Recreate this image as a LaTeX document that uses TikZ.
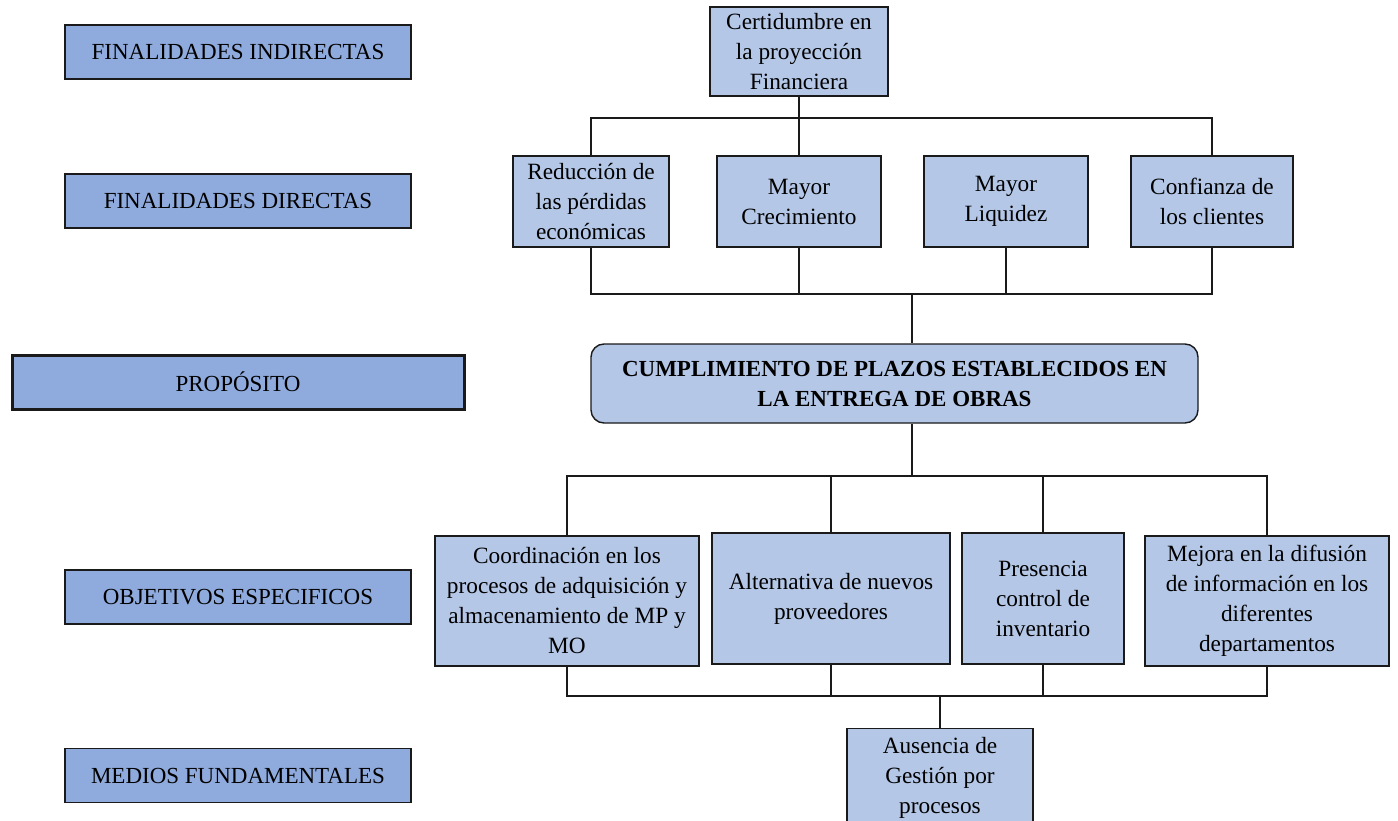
\documentclass[tikz,border=0pt]{standalone}
\usepackage{fontspec}
\setmainfont{Liberation Serif}
\definecolor{lvlfill}{HTML}{8FAADC}
\definecolor{boxfill}{HTML}{B4C7E7}
\definecolor{edge}{HTML}{1A1A1A}
\begin{document}
\begin{tikzpicture}[x=1pt,y=-1pt,
  lvl/.style={draw=edge, line width=1.4pt, fill=lvlfill, inner sep=0pt,
    minimum width=346pt, minimum height=54pt,
    font=\fontsize{23}{27}\selectfont},
  item/.style={draw=edge, line width=1.4pt, fill=boxfill, inner sep=0pt,
    align=center, font=\fontsize{23.3}{30}\selectfont},
  link/.style={draw=edge, line width=1.3pt}
]
\useasboundingbox (0,0) rectangle (1398,821);

% level labels on the left
\node[lvl] (fi)  at (238,52)    {FINALIDADES INDIRECTAS};
\node[lvl] (fd)  at (238,201)   {FINALIDADES DIRECTAS};
\node[lvl, line width=3pt, minimum width=452pt] (pr) at (238,382) {PROPÓSITO};
\node[lvl] (oe)  at (238,597)   {OBJETIVOS ESPECIFICOS};
\node[lvl] (mf)  at (238,775.5) {MEDIOS FUNDAMENTALES};

% indirect and direct ends
\node[item, minimum width=178pt, minimum height=89pt] (cert) at (799,51.5)
  {Certidumbre en\\la proyección\\Financiera};
\node[item, minimum width=156pt, minimum height=91pt] (red) at (591,201.5)
  {Reducción de\\las pérdidas\\económicas};
\node[item, minimum width=164pt, minimum height=91pt] (mc) at (799,201.5)
  {Mayor\\Crecimiento};
\node[item, minimum width=164pt, minimum height=91pt] (ml) at (1006,201.5)
  {Mayor\\Liquidez};
\node[item, minimum width=162pt, minimum height=91pt] (cc) at (1212,201.5)
  {Confianza de\\los clientes};

% purpose
\node[item, rounded corners=13pt, minimum width=607pt, minimum height=79pt,
  font=\bfseries\fontsize{23}{30}\selectfont] (cp) at (894.5,383.5)
  {CUMPLIMIENTO DE PLAZOS ESTABLECIDOS EN\\LA ENTREGA DE OBRAS};

% specific objectives
\node[item, minimum width=264pt, minimum height=130pt] (co) at (567,601)
  {Coordinación en los\\procesos de adquisición y\\almacenamiento de MP y\\MO};
\node[item, minimum width=238pt, minimum height=131pt] (al) at (831,598.5)
  {Alternativa de nuevos\\proveedores};
\node[item, minimum width=162pt, minimum height=131pt] (pc) at (1043,598.5)
  {Presencia\\control de\\inventario};
\node[item, minimum width=244pt, minimum height=130pt] (me) at (1267,601)
  {Mejora en la difusión\\de información en los\\diferentes\\departamentos};

% fundamental means (runs past the lower edge)
\node[item, anchor=north, minimum width=186pt, inner ysep=9pt] (au) at (940,728)
  {Ausencia de\\Gestión por\\procesos};

% junction points
\coordinate (t1) at (799,118);
\coordinate (b1) at (912,294);
\coordinate (m1) at (912,476);
\coordinate (m2) at (940,696);

% connectors
\draw[link] (cert.south) -- (mc.north);
\draw[link] (red.north) |- (t1) -| (cc.north);
\draw[link] (red.south) |- (b1) -| (cc.south);
\draw[link] (mc.south) -- (mc.south |- b1);
\draw[link] (ml.south) -- (ml.south |- b1);
\draw[link] (b1) -- (b1 |- cp.north);
\draw[link] (b1 |- cp.south) -- (m1);
\draw[link] (co.north) |- (m1) -| (me.north);
\draw[link] (al.north) -- (al.north |- m1);
\draw[link] (pc.north) -- (pc.north |- m1);
\draw[link] (co.south) |- (m2) -| (me.south);
\draw[link] (al.south) -- (al.south |- m2);
\draw[link] (pc.south) -- (pc.south |- m2);
\draw[link] (m2) -- (au.north);
\end{tikzpicture}
\end{document}
